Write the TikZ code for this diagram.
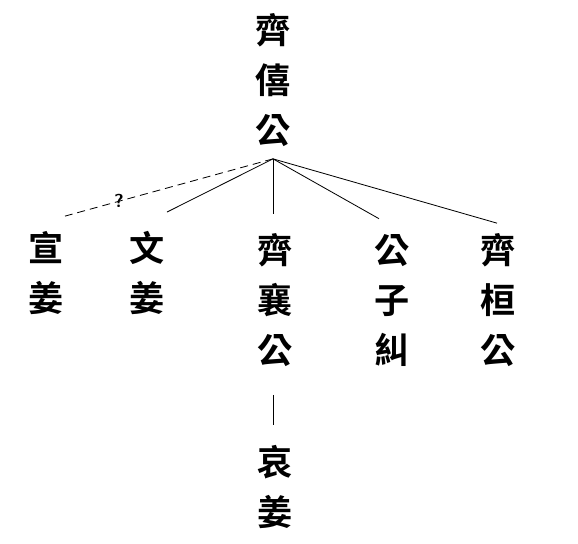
\documentclass[tikz,border=0pt]{standalone}
\usepackage{fontspec}
\newfontfamily\cjk{Noto Sans CJK TC}[BoldFont={* Bold}]
\usetikzlibrary{calc}
\tikzset{
    person/.style={
        font=\cjk\bfseries\fontsize{30}{42.7}\selectfont,
        align=center,
        inner sep=0pt
    },
    link/.style={line width=0.7pt},
    guess/.style={link, dash pattern=on 2.4mm off 1.5mm}
}
\newcommand{\unsure}{\sffamily\bfseries\fontsize{16}{18}\selectfont}

\begin{document}
\begin{tikzpicture}[x=0.3mm, y=-0.3mm]
        \useasboundingbox (0,0) rectangle (578,543);
        \node[person] (xiGong) at (273,80) {齊\\僖\\公};
        \node[person] (xuanJiang) at (46,273) {宣\\姜};
        \node[person] (wenJiang) at (147,273) {文\\姜};
        \node[person] (xiangGong) at (275,300) {齊\\襄\\公};
        \node[person] (jiuGong) at (392,300) {公\\子\\糾};
        \node[person] (huanGong) at (498,300) {齊\\桓\\公};
        \node[person] (aiJiang) at (275,487) {哀\\姜};

        \coordinate (apex) at ($(xiGong.south)+(0,12)$);
        \draw[guess] (apex) -- node[pos=0.74, font=\unsure, inner sep=0pt] {?} ($(xuanJiang.north)+(19,-15)$);
        \draw[link] (apex) -- ($(wenJiang.north)+(20,-19)$);
        \draw[link] (apex) -- ($(xiangGong.north)+(-2,-19)$);
        \draw[link] (apex) -- ($(jiuGong.north)+(-13,-15)$);
        \draw[link] (apex) -- ($(huanGong.north)+(-1,-10)$);
        \draw[link] ($(xiangGong.south)+(-2,28)$) -- ($(aiJiang.north)+(-2,-20)$);
    \end{tikzpicture}
\end{document}
